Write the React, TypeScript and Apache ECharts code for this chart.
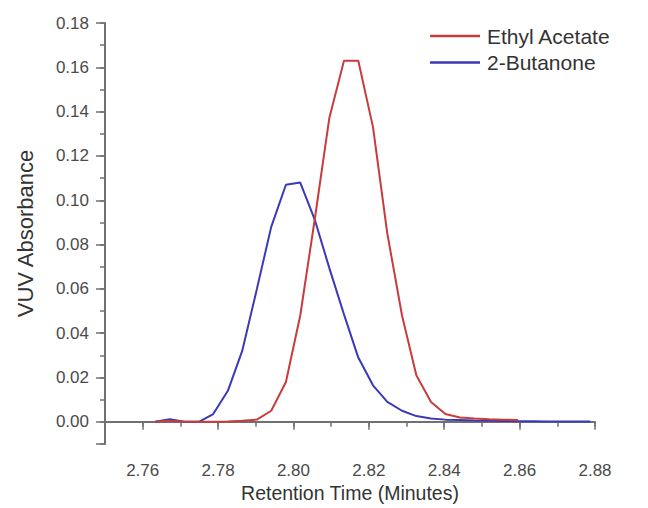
import React, { useEffect, useRef } from 'react';
import * as echarts from 'echarts';

// Retention time (minutes)
const times = [
  2.7633, 2.7672, 2.7710, 2.7749, 2.7787, 2.7826, 2.7864, 2.7903, 2.7941, 2.7980,
  2.8018, 2.8057, 2.8095, 2.8134, 2.8172, 2.8211, 2.8249, 2.8288, 2.8326, 2.8365,
  2.8403, 2.8442, 2.8480, 2.8519, 2.8557, 2.8596, 2.8634, 2.8673, 2.8711, 2.8750,
  2.8788,
];

// VUV absorbance
const ethylAcetate = [
  0, 0.0005, 0, 0, 0, 0.0002, 0.0005, 0.001, 0.005, 0.018,
  0.048, 0.092, 0.137, 0.163, 0.163, 0.133, 0.085, 0.048, 0.021, 0.009,
  0.0035, 0.002, 0.0015, 0.0012, 0.001, 0.0008,
];

const butanone = [
  0, 0.0012, 0, 0, 0.0035, 0.014, 0.032, 0.06, 0.088, 0.107,
  0.108, 0.091, 0.0695, 0.0485, 0.029, 0.0165, 0.009, 0.005, 0.0026, 0.0015,
  0.001, 0.0008, 0.0006, 0.0005, 0.0004, 0.0003, 0.0003, 0.0002, 0.0002, 0.0002,
  0.0002,
];

const seriesNames = ['Ethyl Acetate', '2-Butanone'];
const seriesColors = ['#c83c3c', '#3a3ab8'];

export default function App() {
  const ref = useRef<HTMLDivElement>(null);

  useEffect(() => {
    if (!ref.current) return;
    const chart = echarts.init(ref.current, null, { renderer: 'svg' });
    const font = '"Liberation Sans", Arial, sans-serif';
    const axisColor = '#707070';
    const labelColor = '#4a4a4a';
    const titleColor = '#333333';

    const pairs = (vals: number[]) => vals.map((v, i) => [times[i], v]);

    chart.setOption({
      animation: false,
      backgroundColor: '#ffffff',
      textStyle: { fontFamily: font },
      grid: { left: 105, right: 53, top: 23, bottom: 63, containLabel: false },
      legend: {
        orient: 'vertical',
        left: 425,
        top: 20,
        itemWidth: 50,
        itemHeight: 2.5,
        itemGap: 4.5,
        icon: 'rect',
        data: seriesNames,
        textStyle: { fontSize: 21, color: titleColor, lineHeight: 22, fontFamily: font, padding: [0, 0, 0, 2] },
      },
      xAxis: [
        {
          type: 'value',
          min: 2.75,
          max: 2.88,
          splitNumber: 6,
          position: 'bottom',
          name: 'Retention Time (Minutes)',
          nameLocation: 'middle',
          nameGap: 39,
          nameMoveOverlap: false,
          nameTextStyle: { fontSize: 19.5, color: titleColor, fontFamily: font },
          axisLine: { show: true, lineStyle: { color: axisColor, width: 2 } },
          axisTick: { show: true, inside: false, length: 8, lineStyle: { color: axisColor, width: 1.5 } },
          axisLabel: {
            margin: 18,
            fontSize: 17,
            color: labelColor,
            fontFamily: font,
            formatter: (v: number) => (v < 2.755 ? '' : v.toFixed(2)),
          },
          splitLine: { show: false },
        },
        {
          type: 'value',
          min: 2.75,
          max: 2.88,
          splitNumber: 13,
          position: 'bottom',
          axisLine: { show: false },
          axisTick: { show: true, inside: false, length: 5, lineStyle: { color: axisColor, width: 1.5 } },
          axisLabel: { show: false },
          splitLine: { show: false },
        },
      ],
      yAxis: [
        {
          type: 'value',
          min: -0.01,
          max: 0.18,
          splitNumber: 9,
          position: 'left',
          name: 'VUV Absorbance',
          nameLocation: 'middle',
          nameGap: 69,
          nameRotate: 90,
          nameMoveOverlap: false,
          nameTextStyle: { fontSize: 22, color: titleColor, fontFamily: font },
          axisLine: { show: true, lineStyle: { color: axisColor, width: 2 } },
          axisTick: { show: true, inside: false, length: 9, lineStyle: { color: axisColor, width: 1.5 } },
          axisLabel: {
            margin: 16,
            fontSize: 17,
            color: labelColor,
            fontFamily: font,
            formatter: (v: number) => (v < -0.001 ? '' : v.toFixed(2)),
          },
          splitLine: { show: false },
        },
        {
          type: 'value',
          min: -0.01,
          max: 0.18,
          splitNumber: 19,
          position: 'left',
          axisLine: { show: false },
          axisTick: { show: true, inside: false, length: 5, lineStyle: { color: axisColor, width: 1.5 } },
          axisLabel: { show: false },
          splitLine: { show: false },
        },
      ],
      series: [
        {
          name: seriesNames[0],
          type: 'line',
          xAxisIndex: 0,
          yAxisIndex: 0,
          data: pairs(ethylAcetate),
          symbol: 'none',
          showSymbol: false,
          smooth: false,
          z: 3,
          color: seriesColors[0],
          lineStyle: { color: seriesColors[0], width: 2 },
        },
        {
          name: seriesNames[1],
          type: 'line',
          xAxisIndex: 0,
          yAxisIndex: 0,
          data: pairs(butanone),
          symbol: 'none',
          showSymbol: false,
          smooth: false,
          z: 2,
          color: seriesColors[1],
          lineStyle: { color: seriesColors[1], width: 2 },
        },
      ],
    });

    return () => {
      chart.dispose();
    };
  }, []);

  return (
    <div
      ref={ref}
      style={{ position: 'fixed', left: 0, top: 0, width: 648, height: 508, background: '#fff' }}
    />
  );
}
